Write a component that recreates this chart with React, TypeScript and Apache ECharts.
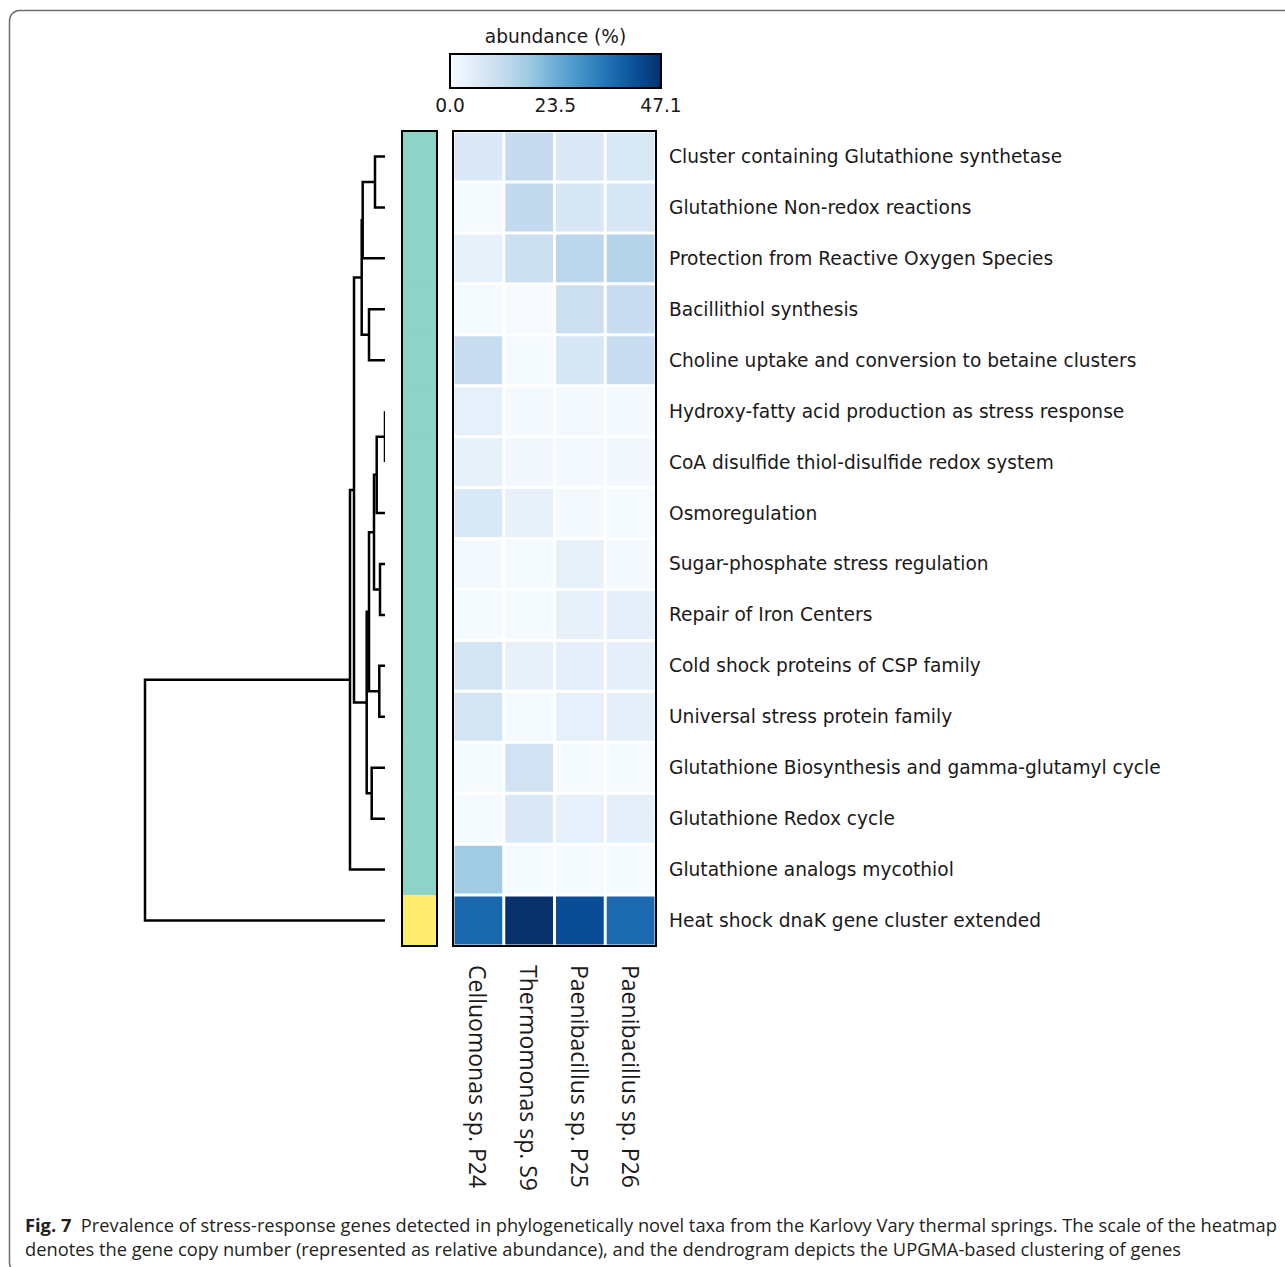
import React, { useEffect, useRef } from "react";
import * as echarts from "echarts";

// Gene functional categories (rows, in dendrogram leaf order)
const genes = [
  "Cluster containing Glutathione synthetase",
  "Glutathione Non-redox reactions",
  "Protection from Reactive Oxygen Species",
  "Bacillithiol synthesis",
  "Choline uptake and conversion to betaine clusters",
  "Hydroxy-fatty acid production as stress response",
  "CoA disulfide thiol-disulfide redox system",
  "Osmoregulation",
  "Sugar-phosphate stress regulation",
  "Repair of Iron Centers",
  "Cold shock proteins of CSP family",
  "Universal stress protein family",
  "Glutathione Biosynthesis and gamma-glutamyl cycle",
  "Glutathione Redox cycle",
  "Glutathione analogs mycothiol",
  "Heat shock dnaK gene cluster extended",
];

// Taxa (columns)
const taxa = [
  "Celluomonas sp. P24",
  "Thermomonas sp. S9",
  "Paenibacillus sp. P25",
  "Paenibacillus sp. P26",
];

// Relative abundance (%) per gene row, one value per taxon
const abundance: number[][] = [
  [6.6, 11.8, 6.6, 7.0],
  [0.5, 12.2, 7.5, 7.8],
  [3.8, 10.0, 13.2, 14.2],
  [0.5, 0.3, 10.0, 11.0],
  [11.0, 0.5, 7.5, 11.0],
  [4.0, 0.8, 0.8, 0.6],
  [3.8, 1.2, 0.9, 1.2],
  [6.8, 3.5, 0.6, 0.4],
  [0.6, 0.5, 3.8, 0.6],
  [0.4, 0.4, 3.5, 4.3],
  [8.5, 3.5, 4.3, 4.3],
  [8.5, 0.5, 4.0, 4.3],
  [0.5, 9.0, 0.5, 0.4],
  [0.5, 6.6, 4.0, 4.3],
  [17.4, 0.5, 0.5, 0.4],
  [37.2, 47.1, 42.0, 36.8],
];

// Flat cluster membership of each gene row and the cluster colours
const geneCluster = [0, 0, 0, 0, 0, 0, 0, 0, 0, 0, 0, 0, 0, 0, 0, 1];
const clusterColors = ["#8dd3c7", "#ffed6f"];

// UPGMA linkage: clusters 0..15 are leaves, each row creates cluster 16+k
const linkLeft = [0, 16, 3, 17, 5, 20, 8, 21, 10, 23, 12, 25, 19, 28, 29];
const linkRight = [1, 2, 4, 18, 6, 7, 9, 22, 11, 24, 13, 26, 27, 14, 15];
const linkHeight = [1.0, 2.23, 1.6, 2.33, 0.0, 0.83, 0.5, 1.1, 0.57, 1.6, 1.33, 1.83, 3.1, 3.5, 24.0];

// Colour bar
const abundanceMax = 47.1;
const colorbarTicks = [0, 23.5, 47.1];
const blues = [
  "#f7fbff", "#deebf7", "#c6dbef", "#9ecae1", "#6baed6",
  "#4292c6", "#2171b5", "#08519c", "#08306b",
];

const caption1 = "Prevalence of stress-response genes detected in phylogenetically novel taxa from the Karlovy Vary thermal springs. The scale of the heatmap";
const caption2 = "denotes the gene copy number (represented as relative abundance), and the dendrogram depicts the UPGMA-based clustering of genes";

// Layout (page pixels)
const TOP = 131;
const HEIGHT = 815;
const LEAF_X = 385;
const DENDRO_WIDTH = 252;
const STRIP_LEFT = 402;
const STRIP_WIDTH = 35;
const HEAT_LEFT = 453;
const HEAT_WIDTH = 203;
const CB_LEFT = 450;
const CB_TOP = 54;
const CB_WIDTH = 211;
const CB_HEIGHT = 34;

const LABEL_FONT = "'DejaVu Sans', sans-serif";
const CAPTION_FONT = "'Open Sans', sans-serif";
const TEXT_COLOR = "#1a1a1a";

// Dendrogram node positions from the linkage
const nodeY: number[] = genes.map((_, i) => i);
const nodeH: number[] = genes.map(() => 0);
const dendroSegments = linkLeft.map((l, k) => {
  const r = linkRight[k];
  const h = linkHeight[k];
  const seg = [nodeH[l], nodeY[l], h, nodeH[r], nodeY[r]];
  nodeY.push((nodeY[l] + nodeY[r]) / 2);
  nodeH.push(h);
  return seg;
});
const dendroMax = Math.max(...linkHeight) * 1.05;

const heatData: number[][] = [];
abundance.forEach((row, gi) => row.forEach((v, ti) => heatData.push([ti, gi, v])));
const stripData = geneCluster.map((c, gi) => [0, gi, c]);

export default function App() {
  const ref = useRef<HTMLDivElement>(null);

  useEffect(() => {
    if (!ref.current) return;
    const chart = echarts.init(ref.current, undefined, { renderer: "svg" });

    const option: any = {
      animation: false,
      backgroundColor: "#ffffff",
      grid: [
        { left: LEAF_X - DENDRO_WIDTH, top: TOP, width: DENDRO_WIDTH, height: HEIGHT, show: false },
        { left: STRIP_LEFT, top: TOP, width: STRIP_WIDTH, height: HEIGHT, show: true, borderColor: "#000", borderWidth: 2, backgroundColor: "transparent", z: 10 },
        { left: HEAT_LEFT, top: TOP, width: HEAT_WIDTH, height: HEIGHT, show: true, borderColor: "#000", borderWidth: 2, backgroundColor: "transparent", z: 10 },
        { left: CB_LEFT, top: CB_TOP, width: CB_WIDTH, height: CB_HEIGHT, show: false },
      ],
      xAxis: [
        { gridIndex: 0, type: "value", min: 0, max: dendroMax, inverse: true, show: false },
        { gridIndex: 1, type: "category", data: ["cluster"], show: false },
        {
          gridIndex: 2,
          type: "category",
          data: taxa,
          position: "bottom",
          axisLine: { show: false },
          axisTick: { show: false },
          splitLine: { show: false },
          axisLabel: {
            rotate: -90,
            margin: 19,
            fontFamily: CAPTION_FONT,
            fontSize: 23,
            color: TEXT_COLOR,
            interval: 0,
          },
        },
        {
          gridIndex: 3,
          type: "value",
          min: 0,
          max: abundanceMax,
          position: "bottom",
          axisLine: { show: false },
          splitLine: { show: false },
          axisTick: {
            show: true,
            inside: true,
            length: 7,
            customValues: colorbarTicks,
            lineStyle: { color: "#000", width: 1.5 },
          },
          axisLabel: {
            customValues: colorbarTicks,
            formatter: (v: number) => v.toFixed(1),
            margin: 8,
            fontFamily: LABEL_FONT,
            fontSize: 18.6,
            color: TEXT_COLOR,
          },
        },
      ],
      yAxis: [
        { gridIndex: 0, type: "value", min: -0.5, max: genes.length - 0.5, inverse: true, show: false },
        { gridIndex: 1, type: "category", data: genes, inverse: true, show: false },
        {
          gridIndex: 2,
          type: "category",
          data: genes,
          inverse: true,
          position: "right",
          axisLine: { show: false },
          axisTick: { show: false },
          splitLine: { show: false },
          axisLabel: {
            margin: 13,
            padding: [3, 0, 0, 0],
            fontFamily: LABEL_FONT,
            fontSize: 18.6,
            color: TEXT_COLOR,
            interval: 0,
          },
        },
        { gridIndex: 3, type: "value", min: 0, max: 1, show: false },
      ],
      visualMap: {
        type: "continuous",
        show: false,
        min: 0,
        max: abundanceMax,
        dimension: 2,
        seriesIndex: 2,
        inRange: { color: blues },
      },
      series: [
        {
          type: "custom",
          name: "dendrogram",
          xAxisIndex: 0,
          yAxisIndex: 0,
          clip: true,
          data: dendroSegments,
          renderItem: (_p: any, api: any) => {
            const y1 = api.value(1);
            const y2 = api.value(4);
            const hm = api.value(2);
            const pts = [
              api.coord([api.value(0), y1]),
              api.coord([hm, y1]),
              api.coord([hm, y2]),
              api.coord([api.value(3), y2]),
            ];
            return {
              type: "polyline",
              shape: { points: pts },
              style: { stroke: "#000", fill: "none", lineWidth: 2.5 },
            };
          },
        },
        {
          type: "custom",
          name: "cluster",
          xAxisIndex: 1,
          yAxisIndex: 1,
          z: 2,
          data: stripData,
          renderItem: (_p: any, api: any) => {
            const c = api.coord([api.value(0), api.value(1)]);
            const s = api.size([1, 1]);
            return {
              type: "rect",
              shape: { x: c[0] - s[0] / 2, y: c[1] - s[1] / 2, width: s[0], height: s[1] + 0.5 },
              style: { fill: clusterColors[api.value(2)] },
            };
          },
        },
        {
          type: "custom",
          name: "abundance",
          xAxisIndex: 2,
          yAxisIndex: 2,
          z: 2,
          encode: { x: 0, y: 1 },
          data: heatData,
          renderItem: (_p: any, api: any) => {
            const c = api.coord([api.value(0), api.value(1)]);
            const s = api.size([1, 1]);
            const gap = 1.5;
            return {
              type: "rect",
              shape: {
                x: c[0] - s[0] / 2 + gap,
                y: c[1] - s[1] / 2 + gap,
                width: s[0] - 2 * gap,
                height: s[1] - 2 * gap,
              },
              style: { fill: api.visual("color") },
            };
          },
        },
        {
          type: "custom",
          name: "colorbar",
          xAxisIndex: 3,
          yAxisIndex: 3,
          z: 1,
          data: [[0, abundanceMax]],
          renderItem: (_p: any, api: any) => {
            const p0 = api.coord([api.value(0), 1]);
            const p1 = api.coord([api.value(1), 0]);
            return {
              type: "rect",
              shape: { x: p0[0], y: p0[1], width: p1[0] - p0[0], height: p1[1] - p0[1] },
              style: {
                fill: new echarts.graphic.LinearGradient(
                  0, 0, 1, 0,
                  blues.map((color, i) => ({ offset: i / (blues.length - 1), color }))
                ),
                stroke: "#000",
                lineWidth: 2,
              },
            };
          },
        },
      ],
      graphic: [
        {
          type: "rect",
          silent: true,
          shape: { x: 9.5, y: 10.5, width: 1300, height: 1262, r: 10 },
          style: { fill: "none", stroke: "#6e6e6e", lineWidth: 1.5 },
        },
        {
          type: "text",
          x: CB_LEFT + CB_WIDTH / 2,
          y: CB_TOP - 18,
          style: {
            text: "abundance (%)",
            font: `18.6px ${LABEL_FONT}`,
            fill: TEXT_COLOR,
            align: "center",
            verticalAlign: "middle",
          },
        },
        {
          type: "text",
          x: 25,
          y: 1224,
          style: {
            text: `{b|Fig. 7}  ${caption1}`,
            font: `18.3px ${CAPTION_FONT}`,
            fill: "#231f20",
            verticalAlign: "middle",
            rich: {
              b: { fontWeight: "bold", fontSize: 18.3, fontFamily: CAPTION_FONT, fill: "#231f20" },
            },
          },
        },
        {
          type: "text",
          x: 25,
          y: 1248,
          style: {
            text: caption2,
            font: `18.3px ${CAPTION_FONT}`,
            fill: "#231f20",
            verticalAlign: "middle",
          },
        },
      ],
    };

    chart.setOption(option);
    return () => chart.dispose();
  }, []);

  return (
    <div
      ref={ref}
      style={{ position: "absolute", left: 0, top: 0, width: 1285, height: 1267 }}
    />
  );
}
